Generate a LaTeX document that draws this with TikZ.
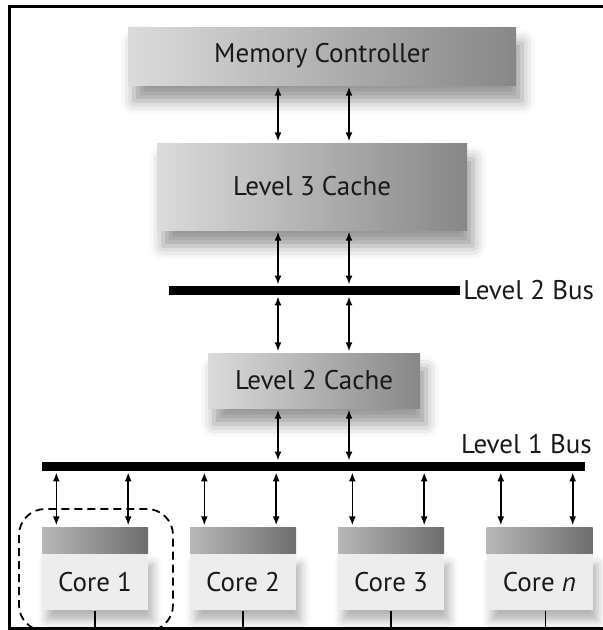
\documentclass[tikz,border=0pt]{standalone}
\usepackage{fontspec}
\setmainfont{PT Sans}
\usetikzlibrary{arrows.meta,positioning,shadows.blur}

\definecolor{boxlight}{gray}{0.86}
\definecolor{boxdark}{gray}{0.53}
\definecolor{headlight}{gray}{0.72}
\definecolor{headdark}{gray}{0.43}
\definecolor{coregray}{gray}{0.93}
\definecolor{inktext}{gray}{0.1}

\tikzset{
    labelfont/.style={text=inktext, font=\fontsize{27}{31}\selectfont},
    unit/.style={rectangle, inner sep=0pt, left color=boxlight, right color=boxdark, labelfont,
        blur shadow={shadow xshift=6pt, shadow yshift=-16pt, shadow blur radius=13pt, shadow opacity=40}},
    bus/.style={rectangle, fill=black, inner sep=0pt, minimum height=8.5pt},
    biarrow/.style={{Latex[length=9pt,width=7pt]}-{Latex[length=9pt,width=7pt]}, line width=1.6pt,
        shorten <=1.5pt, shorten >=1.5pt},
    corehead/.style={rectangle, inner sep=0pt, minimum width=106pt, minimum height=27pt,
        left color=headlight, right color=headdark},
    corebox/.style={rectangle, inner sep=0pt, minimum width=106pt, minimum height=56pt, fill=coregray, labelfont,
        blur shadow={shadow xshift=5pt, shadow yshift=-10pt, shadow blur radius=9pt, shadow opacity=30}},
}

\begin{document}
\begin{tikzpicture}[x=1pt, y=-1pt]
    \useasboundingbox (0,0) rectangle (603,630);

    % caches and buses
    \node[unit, minimum width=388pt, minimum height=58pt] (mc) at (322,56) {Memory Controller};
    \node[unit, minimum width=310pt, minimum height=87pt] (l3) at (312,186.5) {Level 3 Cache};
    \node[bus, minimum width=291pt] (l2bus) at (314.5,290.5) {};
    \node[labelfont, anchor=west, inner sep=0pt] (l2lab) at ([xshift=3pt]l2bus.east) {Level 2 Bus};
    \node[unit, minimum width=212pt, minimum height=55pt] (l2) at (314,380.5) {Level 2 Cache};
    \node[bus, minimum width=543pt] (l1bus) at (313.5,466.5) {};
    \node[labelfont, anchor=base east, inner sep=0pt] (l1lab) at (592,453) {Level 1 Bus};

    % cores
    \node[corehead] (h1) at (95,540.5) {};
    \node[corehead] (h2) at (243,540.5) {};
    \node[corehead] (h3) at (391,540.5) {};
    \node[corehead] (h4) at (539.5,540.5) {};
    \node[corebox, below=0pt of h1] (b1) {Core 1};
    \node[corebox, below=0pt of h2] (b2) {Core 2};
    \node[corebox, below=0pt of h3] (b3) {Core 3};
    \node[corebox, below=0pt of h4] (b4) {Core \textit{n}};

    \coordinate (pa) at (278,0);
    \coordinate (pb) at (349,0);
    \coordinate (floor) at (0,628);

    \draw[biarrow] (mc.south -| pa) -- (l3.north -| pa);
    \draw[biarrow] (mc.south -| pb) -- (l3.north -| pb);
    \draw[biarrow] (l3.south -| pa) -- (l2bus.north -| pa);
    \draw[biarrow] (l3.south -| pb) -- (l2bus.north -| pb);
    \draw[biarrow] (l2bus.south -| pa) -- (l2.north -| pa);
    \draw[biarrow] (l2bus.south -| pb) -- (l2.north -| pb);
    \draw[biarrow] (l2.south -| pa) -- (l1bus.north -| pa);
    \draw[biarrow] (l2.south -| pb) -- (l1bus.north -| pb);

    % core links
    \coordinate (h1a) at ([xshift=14.5pt]h1.north west);
    \coordinate (h1b) at ([xshift=-20pt]h1.north east);
    \coordinate (h2a) at ([xshift=14.5pt]h2.north west);
    \coordinate (h2b) at ([xshift=-20pt]h2.north east);
    \coordinate (h3a) at ([xshift=14.5pt]h3.north west);
    \coordinate (h3b) at ([xshift=-20pt]h3.north east);
    \coordinate (h4a) at ([xshift=14.5pt]h4.north west);
    \coordinate (h4b) at ([xshift=-20pt]h4.north east);
    \draw[biarrow] (l1bus.south -| h1a) -- (h1a);
    \draw[biarrow] (l1bus.south -| h1b) -- (h1b);
    \draw[biarrow] (l1bus.south -| h2a) -- (h2a);
    \draw[biarrow] (l1bus.south -| h2b) -- (h2b);
    \draw[biarrow] (l1bus.south -| h3a) -- (h3a);
    \draw[biarrow] (l1bus.south -| h3b) -- (h3b);
    \draw[biarrow] (l1bus.south -| h4a) -- (h4a);
    \draw[biarrow] (l1bus.south -| h4b) -- (h4b);

    \draw[line width=1.6pt] (b1.south) -- (b1.south |- floor);
    \draw[line width=1.6pt] (b2.south) -- (b2.south |- floor);
    \draw[line width=1.6pt] (b3.south) -- (b3.south |- floor);
    \draw[line width=1.6pt] ([xshift=6pt]b4.south) -- ([xshift=6pt]b4.south |- floor);

    % dashed group round core 1
    \begin{scope}
        \clip (0,0) rectangle (603,627);
        \draw[line width=1.8pt, dash pattern=on 8pt off 5pt, rounded corners=26pt] (19,509) rectangle (173,631);
    \end{scope}

    % frame
    \draw[line width=3pt] (603,6) -- (9.5,6) -- (9.5,628.5) -- (603,628.5);
\end{tikzpicture}
\end{document}
